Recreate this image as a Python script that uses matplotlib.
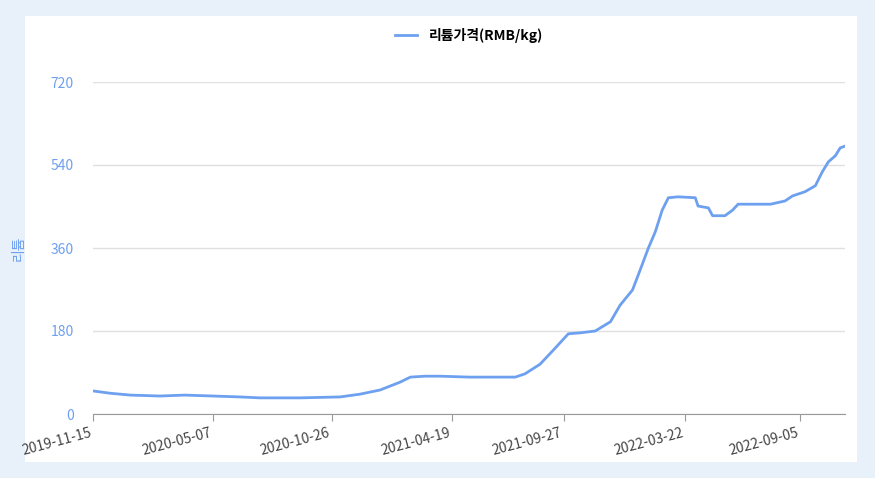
import matplotlib
matplotlib.use("Agg")
import matplotlib.pyplot as plt
import pandas as pd

plt.rcParams['font.family'] = ['Noto Sans CJK KR', 'DejaVu Sans']

dates = ["2019-11-15","2019-12-10","2020-01-08","2020-02-20","2020-03-27","2020-05-07","2020-06-15",
         "2020-07-14","2020-09-10","2020-11-07","2020-12-06","2021-01-04","2021-02-02","2021-02-17",
         "2021-03-10","2021-04-01","2021-05-14","2021-07-19","2021-08-02","2021-08-24","2021-09-15",
         "2021-10-04","2021-10-21","2021-11-12","2021-12-04","2021-12-18","2022-01-05","2022-01-16",
         "2022-01-28","2022-02-07","2022-02-17","2022-02-26","2022-03-12","2022-04-06","2022-04-10",
         "2022-04-25","2022-05-01","2022-05-19","2022-05-30","2022-06-07","2022-06-25","2022-07-24",
         "2022-08-14","2022-08-25","2022-09-12","2022-09-27","2022-10-07","2022-10-16","2022-10-26",
         "2022-11-02","2022-11-09"]
values = [50,45,41,39,41,39,37,35,35,37,43,52,69,80,82,82,80,80,87,108,143,
          174,176,180,200,236,269,312,360,395,442,469,471,469,451,447,430,430,442,455,455,455,
          462,473,482,495,525,547,560,577,581]
tick_labels = ["2019-11-15","2020-05-07","2020-10-26","2021-04-19","2021-09-27","2022-03-22","2022-09-05"]
yticks = [0,180,360,540,720]

blue = "#6ea0f0"
fig = plt.figure(figsize=(8.75,4.78), dpi=100)
fig.patch.set_facecolor("#e8f0fa")
bg = fig.add_axes([25/875, 16/478, 832/875, 446/478], zorder=0)
bg.set_facecolor("white")
bg.set_xticks([]); bg.set_yticks([])
for s in bg.spines.values():
    s.set_visible(False)

ax = fig.add_axes([93/875, 64/478, 752/875, 332/478], zorder=1)
ax.set_facecolor("none")
x = pd.to_datetime(dates)
ax.plot(x, values, color=blue, lw=2, label="리튬가격(RMB/kg)")
ax.set_xlim(x[0], x[-1])
ax.set_ylim(0, 720)
ax.set_yticks(yticks)
ax.grid(axis='y', color="#e0e0e0", lw=1)
ax.set_axisbelow(True)
for s in ['left','right','top']:
    ax.spines[s].set_visible(False)
ax.spines['bottom'].set_color("#999999")
ax.tick_params(axis='y', length=0, labelcolor=blue, labelsize=10, pad=14)
tk = pd.to_datetime(tick_labels)
ax.set_xticks(tk)
ax.set_xticklabels(tick_labels, rotation=15, ha='right', color="#444444", fontsize=10)
ax.tick_params(axis='x', length=5, color="#999999")
ax.set_ylabel("리튬", color=blue, fontsize=10, labelpad=18)
ax.legend(loc='upper center', bbox_to_anchor=(0.5, 1.2), frameon=False,
          handlelength=1.6, prop={'weight':'bold', 'size':10})
fig.savefig("out.png", dpi=100, facecolor=fig.get_facecolor())
